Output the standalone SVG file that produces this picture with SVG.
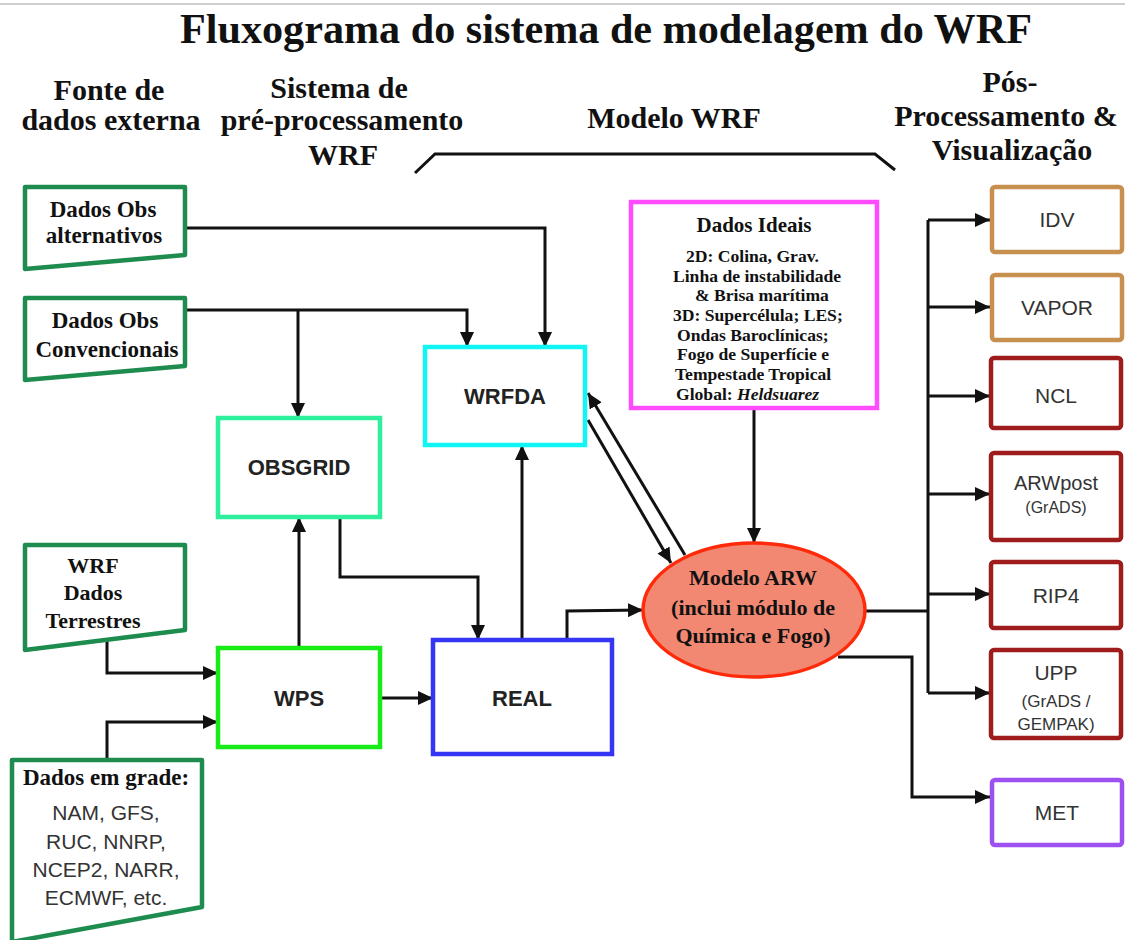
<svg xmlns="http://www.w3.org/2000/svg" width="1125" height="940" viewBox="0 0 1125 940">
<style>
.hd{font-family:"Liberation Serif","Times New Roman",serif;font-weight:bold;font-size:30px;fill:#111;text-anchor:middle}
.sr{font-family:"Liberation Serif","Times New Roman",serif;font-weight:bold;fill:#111;text-anchor:middle}
.sb{font-family:"Liberation Sans",Arial,sans-serif;font-weight:bold;font-size:22px;fill:#222;text-anchor:middle}
.sn{font-family:"Liberation Sans",Arial,sans-serif;fill:#333;text-anchor:middle}
.st{font-family:"Liberation Serif","Times New Roman",serif;font-weight:bold;fill:#111;font-size:17.6px}
.trap{fill:#fff;stroke:#1e8c4e;stroke-width:4.5;stroke-linejoin:round}
.box{fill:#fff;stroke-width:4.5}
.con{fill:none;stroke:#111;stroke-width:3;stroke-linejoin:miter}
</style>
<defs>
<marker id="ah" markerUnits="userSpaceOnUse" markerWidth="16" markerHeight="14" refX="15" refY="7" orient="auto">
<path d="M0,0 L15,7 L0,14 z" fill="#111"/>
</marker>
</defs>
<rect width="1125" height="940" fill="#fff"/>
<line x1="0" y1="4" x2="1125" y2="4" stroke="#cfcfcf" stroke-width="2"/>
<text class="sr" x="606" y="43" font-size="42" textLength="852" lengthAdjust="spacingAndGlyphs">Fluxograma do sistema de modelagem do WRF</text>
<g id="headers">
<text class="hd" x="109" y="100">Fonte de</text>
<text class="hd" x="111" y="130">dados externa</text>
<text class="hd" x="339" y="98">Sistema de</text>
<text class="hd" x="342" y="130">pré-processamento</text>
<text class="hd" x="343" y="165">WRF</text>
<text class="hd" x="674" y="128">Modelo WRF</text>
<text class="hd" x="1010" y="92">Pós-</text>
<text class="hd" x="1006" y="126">Processamento &amp;</text>
<text class="hd" x="1012" y="160">Visualização</text>
<polyline class="con" points="415,173 435,154 875,154 895,170"/>
</g>
<g id="connectors">
<polyline class="con" points="185,228 545,228 545,347" marker-end="url(#ah)"/>
<polyline class="con" points="185,310 467,310 467,347" marker-end="url(#ah)"/>
<polyline class="con" points="298,310 298,418" marker-end="url(#ah)"/>
<polyline class="con" points="299,648 299,517" marker-end="url(#ah)"/>
<polyline class="con" points="340,517 340,577 478,577 478,640" marker-end="url(#ah)"/>
<polyline class="con" points="522,640 522,445" marker-end="url(#ah)"/>
<polyline class="con" points="567,640 567,611 643,610" marker-end="url(#ah)"/>
<polyline class="con" points="380,698 433,698" marker-end="url(#ah)"/>
<polyline class="con" points="107,632 107,673 218,673" marker-end="url(#ah)"/>
<polyline class="con" points="107,760 107,722 218,722" marker-end="url(#ah)"/>
<polyline class="con" points="754,408 754,543" marker-end="url(#ah)"/>
<line class="con" x1="685" y1="555" x2="588" y2="393" marker-end="url(#ah)"/>
<line class="con" x1="588" y1="420" x2="671" y2="563" marker-end="url(#ah)"/>
<polyline class="con" points="865,611 928,611"/>
<polyline class="con" points="928,220 928,693"/>
<polyline class="con" points="928,220 990,220" marker-end="url(#ah)"/>
<polyline class="con" points="928,307 990,307" marker-end="url(#ah)"/>
<polyline class="con" points="928,396 990,396" marker-end="url(#ah)"/>
<polyline class="con" points="928,494 990,494" marker-end="url(#ah)"/>
<polyline class="con" points="928,594 990,594" marker-end="url(#ah)"/>
<polyline class="con" points="928,693 990,693" marker-end="url(#ah)"/>
<polyline class="con" points="838,657 912,657 912,797 990,797" marker-end="url(#ah)"/>
</g>
<g id="obs-alt">
<polygon class="trap" points="25,187 185,187 185,255 25,269"/>
<text class="sr" font-size="23" x="103" y="217">Dados Obs</text>
<text class="sr" font-size="23" x="104" y="243">alternativos</text>
</g>
<g id="obs-conv">
<polygon class="trap" points="25,298 185,298 185,366 25,380"/>
<text class="sr" font-size="23" x="105" y="328">Dados Obs</text>
<text class="sr" font-size="23" x="107" y="357">Convencionais</text>
</g>
<g id="terrestres">
<polygon class="trap" points="25,545 185,545 185,630 25,650"/>
<text class="sr" font-size="22" x="93" y="573">WRF</text>
<text class="sr" font-size="22" x="93" y="600">Dados</text>
<text class="sr" font-size="22" x="93" y="628">Terrestres</text>
</g>
<g id="grade">
<polygon class="trap" points="12,760 202,760 202,907 12,942"/>
<text class="sr" font-size="23" x="106" y="785">Dados em grade:</text>
<text class="sn" font-size="21" x="106" y="820">NAM, GFS,</text>
<text class="sn" font-size="21" x="106" y="849">RUC, NNRP,</text>
<text class="sn" font-size="21" x="106" y="877">NCEP2, NARR,</text>
<text class="sn" font-size="21" x="106" y="905">ECMWF, etc.</text>
</g>
<g id="obsgrid">
<rect class="box" x="218" y="418" width="162" height="99" stroke="#2eef9c"/>
<text class="sb" x="299" y="475">OBSGRID</text>
</g>
<g id="wrfda">
<rect class="box" x="425" y="347" width="160" height="98" stroke="#11f5f5"/>
<text class="sb" x="505" y="404">WRFDA</text>
</g>
<g id="wps">
<rect class="box" x="218" y="648" width="162" height="99" stroke="#18ec18"/>
<text class="sb" x="299" y="706">WPS</text>
</g>
<g id="real">
<rect class="box" x="433" y="640" width="179" height="114" stroke="#3535f5"/>
<text class="sb" x="522" y="706">REAL</text>
</g>
<g id="ideais">
<rect class="box" x="631" y="202" width="246" height="206" stroke="#ff4cff"/>
<text class="sr" font-size="21" x="754" y="232">Dados Ideais</text>
<text class="st" x="686" y="262">2D: Colina, Grav.</text>
<text class="st" x="673" y="282">Linha de instabilidade</text>
<text class="st" x="695" y="301">&amp; Brisa marítima</text>
<text class="st" x="673" y="321">3D: Supercélula; LES;</text>
<text class="st" x="677" y="341">Ondas Baroclínicas;</text>
<text class="st" x="677" y="360">Fogo de Superfície e</text>
<text class="st" x="675" y="380">Tempestade Tropical</text>
<text class="st" x="676" y="400">Global: <tspan font-style="italic">Heldsuarez</tspan></text>
</g>
<g id="arw">
<ellipse cx="754" cy="610" rx="111" ry="67" fill="#f38872" stroke="#ff2a0a" stroke-width="3.5"/>
<text class="sr" font-size="22" x="753" y="585">Modelo ARW</text>
<text class="sr" font-size="22" x="753" y="615">(inclui módulo de</text>
<text class="sr" font-size="22" x="753" y="643">Química e Fogo)</text>
</g>
<g id="idv">
<rect class="box" x="992" y="187" width="130" height="65" rx="3" stroke="#c8904e"/>
<text class="sn" font-size="21" x="1057" y="227">IDV</text>
</g>
<g id="vapor">
<rect class="box" x="992" y="275" width="130" height="65" rx="3" stroke="#c8904e"/>
<text class="sn" font-size="21" x="1057" y="315">VAPOR</text>
</g>
<g id="ncl">
<rect class="box" x="991" y="358" width="130" height="70" rx="3" stroke="#9e1c1c"/>
<text class="sn" font-size="21" x="1056" y="403">NCL</text>
</g>
<g id="arwpost">
<rect class="box" x="991" y="453" width="130" height="87" rx="3" stroke="#9e1c1c"/>
<text class="sn" font-size="20" x="1056" y="490">ARWpost</text>
<text class="sn" font-size="16" x="1056" y="513">(GrADS)</text>
</g>
<g id="rip4">
<rect class="box" x="991" y="562" width="130" height="66" rx="3" stroke="#9e1c1c"/>
<text class="sn" font-size="21" x="1056" y="603">RIP4</text>
</g>
<g id="upp">
<rect class="box" x="991" y="650" width="130" height="88" rx="3" stroke="#9e1c1c"/>
<text class="sn" font-size="21" x="1056" y="680">UPP</text>
<text class="sn" font-size="17" x="1056" y="707">(GrADS /</text>
<text class="sn" font-size="17" x="1056" y="730">GEMPAK)</text>
</g>
<g id="met">
<rect class="box" x="992" y="780" width="130" height="65" rx="3" stroke="#9d50ef"/>
<text class="sn" font-size="21" x="1057" y="820">MET</text>
</g>
</svg>
